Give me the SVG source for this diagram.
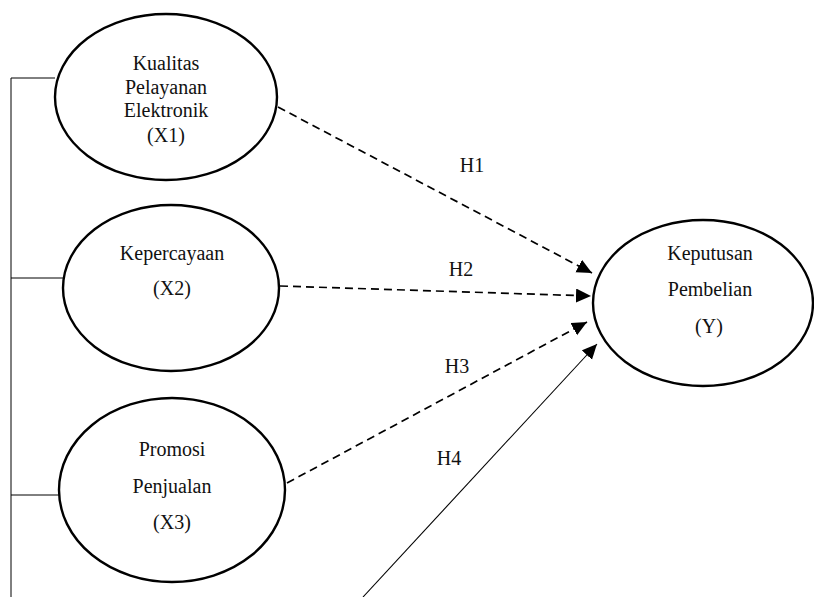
<svg xmlns="http://www.w3.org/2000/svg" width="814" height="597" viewBox="0 0 814 597" font-family="'Liberation Serif', 'Times New Roman', Times, serif">
<defs>
<marker id="ah" markerUnits="userSpaceOnUse" markerWidth="18" markerHeight="16" refX="15" refY="7" orient="auto">
<path d="M0,0 L15,7 L0,14 Z" fill="#000"/>
</marker>
<style>
.node ellipse{fill:#fff;stroke:#000;stroke-width:2.4}
text{font-family:'Liberation Serif','Times New Roman',Times,serif;font-size:20px;fill:#111;text-anchor:middle}
.dash{stroke:#000;stroke-width:1.7;stroke-dasharray:8 5;fill:none}
.solid{stroke:#000;stroke-width:1.1;fill:none}
.thin{stroke:#000;stroke-width:1;fill:none}
</style>
</defs>
<rect width="814" height="597" fill="#fff"/>
<g id="connectors">
<polyline class="thin" points="55,78 11,78 11,597"/>
<line class="thin" x1="11" y1="278" x2="63" y2="278"/>
<line class="thin" x1="11" y1="495" x2="59" y2="495"/>
<line class="dash" x1="278" y1="107" x2="592" y2="273" marker-end="url(#ah)"/>
<line class="dash" x1="280" y1="286" x2="591" y2="296" marker-end="url(#ah)"/>
<line class="dash" x1="287" y1="483" x2="587" y2="322" marker-end="url(#ah)"/>
<line class="solid" x1="363" y1="597" x2="597" y2="344" marker-end="url(#ah)"/>
<text x="472" y="172">H1</text>
<text x="461" y="276">H2</text>
<text x="457" y="373">H3</text>
<text x="449" y="465">H4</text>
</g>
<g id="x1" class="node">
<ellipse cx="166" cy="97" rx="111" ry="83"/>
<text x="166" y="70">Kualitas</text>
<text x="166" y="94">Pelayanan</text>
<text x="166" y="117">Elektronik</text>
<text x="166" y="142">(X1)</text>
</g>
<g id="x2" class="node">
<ellipse cx="171" cy="288" rx="108" ry="83"/>
<text x="172" y="260">Kepercayaan</text>
<text x="172" y="295">(X2)</text>
</g>
<g id="x3" class="node">
<ellipse cx="172" cy="490" rx="113" ry="92"/>
<text x="172" y="456">Promosi</text>
<text x="172" y="493">Penjualan</text>
<text x="172" y="529">(X3)</text>
</g>
<g id="y" class="node">
<ellipse cx="703" cy="303" rx="110" ry="83"/>
<text x="710" y="260">Keputusan</text>
<text x="710" y="296">Pembelian</text>
<text x="709" y="333">(Y)</text>
</g>
</svg>
